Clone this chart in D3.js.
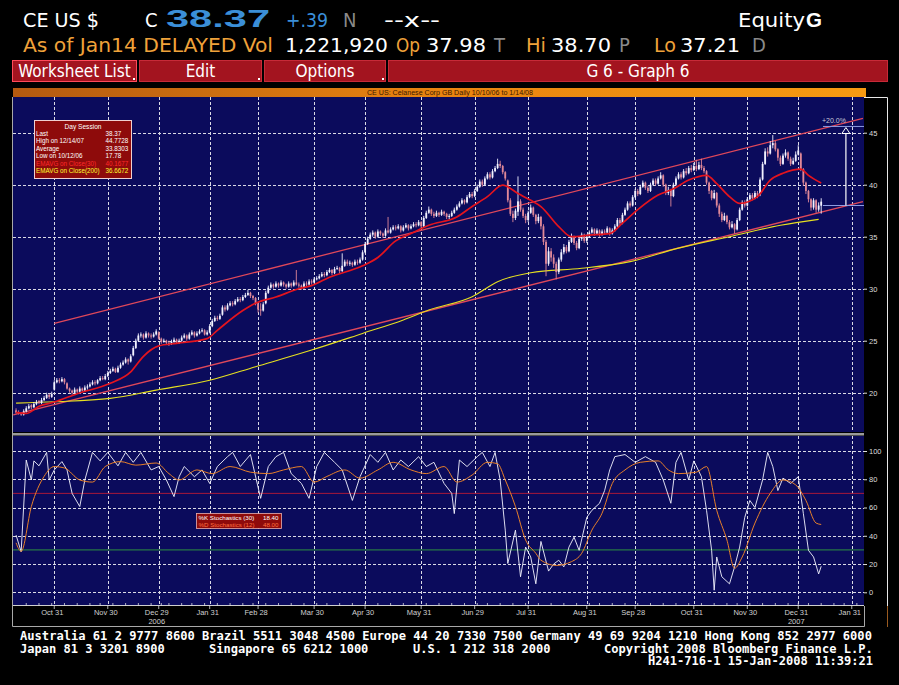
<!DOCTYPE html>
<html>
<head>
<meta charset="utf-8">
<title>CE US Equity G</title>
<script src="https://d3js.org/d3.v7.min.js"></script>
<style>
  body { margin: 0; background: #000; }
  svg { display: block; }
</style>
</head>
<body>
<svg id="chart" width="899" height="685"></svg>
<script>
// ---- sessions (trading days) ----
const sessionStart = "2006-10-10"
const sessionEnd = "2008-02-08"
const marketHolidays = ["2006-11-23", "2006-12-25", "2007-01-01", "2007-01-02", "2007-01-15", "2007-02-19",
  "2007-04-06", "2007-05-28", "2007-07-04", "2007-09-03", "2007-11-22", "2007-12-25", "2008-01-01", "2008-01-21"]

// ---- daily candles, one per session from 10 Oct 2006 to 14 Jan 2008 ----
const openPx = [
  18.3,18.1,18.0,17.9,18.2,18.5,18.8,18.6,18.9,19.2, 19.0,19.3,19.5,19.8,19.6,20.3,21.0,21.2,21.1,21.3,
  20.9,20.4,20.2,20.0,20.3,20.1,20.4,20.2,20.5,20.6, 20.8,21.0,20.9,21.2,21.4,21.3,21.6,21.9,22.1,22.3,
  22.0,22.4,22.7,22.9,23.2,23.0,23.6,24.3,25.0,25.5, 25.6,25.3,25.7,25.5,25.4,25.6,25.8,25.2,24.9,25.0,
  24.8,24.7,24.9,25.1,24.8,25.0,25.3,25.5,25.2,25.6, 25.8,25.5,25.7,25.9,26.0,25.6,25.8,26.4,26.9,27.2,
  27.1,27.5,28.2,28.0,28.4,28.6,28.5,28.8,29.0,28.9, 29.2,29.4,29.6,29.3,29.1,28.6,28.0,27.9,28.6,29.6,
  30.1,30.4,30.2,30.5,30.3,30.6,30.4,30.2,30.5,30.3, 30.6,30.4,30.3,30.1,30.5,30.4,30.7,30.6,30.9,31.0,
  31.2,31.4,31.3,31.6,31.8,31.5,31.9,32.0,31.7,32.2, 32.6,32.4,32.5,32.3,32.6,32.5,32.8,33.5,34.3,34.8,
  35.2,35.4,35.0,35.5,35.3,35.1,35.6,35.4,35.7,35.9, 35.8,36.0,35.6,35.9,36.1,35.8,36.0,36.2,36.1,36.4,
  36.0,36.8,37.3,37.6,37.2,37.0,37.3,37.1,37.4,37.2, 36.9,37.0,37.3,37.6,37.9,38.2,38.5,38.3,38.8,39.1,
  38.9,39.4,39.8,40.3,40.0,40.6,41.0,40.7,41.3,41.6, 42.0,41.8,41.2,40.4,38.5,37.2,36.8,37.4,38.4,37.6,
  37.0,36.6,37.3,37.8,37.1,36.5,36.9,36.0,34.5,32.4, 33.6,33.0,32.4,31.6,32.8,33.5,34.0,33.6,34.5,35.0,
  34.4,33.9,34.8,35.2,34.6,35.0,35.4,35.7,35.3,35.6, 35.2,35.5,35.4,35.8,35.3,35.6,36.0,36.6,36.3,37.1,
  37.6,38.2,38.0,38.8,39.4,39.1,39.8,40.2,39.7,39.4, 40.0,40.4,40.1,40.6,40.9,40.0,39.2,39.5,38.9,40.0,
  40.6,41.0,40.7,41.3,41.1,41.6,41.4,41.8,41.5,41.9, 41.6,41.3,40.2,39.4,38.7,39.2,38.0,37.2,36.6,37.0,
  36.4,35.9,36.2,35.7,36.6,37.6,38.3,38.0,38.6,39.0, 38.7,39.2,39.0,40.5,42.0,43.2,43.0,43.8,44.0,43.4,
  42.6,42.0,42.8,43.1,42.5,42.0,42.3,42.9,43.0,41.5, 40.2,39.4,38.6,37.8,38.5,37.6,37.98]
const highPx = [
  18.5,18.3,18.1,18.4,18.7,18.9,18.9,19.1,19.3,19.3, 19.5,19.7,20.0,19.9,20.1,21.2,21.4,21.4,21.5,21.4,
  21.0,20.5,20.3,20.5,20.4,20.6,20.5,20.7,20.8,21.0, 21.2,21.2,21.3,21.6,21.6,21.8,22.1,22.3,22.5,22.4,
  22.6,22.9,23.1,23.4,23.3,23.7,24.5,25.2,25.7,25.8, 25.7,25.9,25.8,25.7,25.8,26.1,25.9,25.3,25.2,25.1,
  25.0,25.1,25.3,25.2,25.2,25.5,25.7,25.6,25.8,26.0, 25.9,25.9,26.1,26.2,26.1,26.0,26.6,27.1,27.4,27.4,
  27.6,28.4,28.4,28.6,28.8,28.8,29.0,29.2,29.2,29.4, 29.6,29.9,29.7,29.4,29.2,28.7,28.6,28.7,29.8,30.3,
  30.6,30.5,30.7,30.6,30.8,30.7,30.5,30.7,30.6,30.8, 31.8,30.6,30.4,30.7,30.7,30.9,30.9,31.1,31.2,31.4,
  31.6,31.6,31.8,32.0,31.9,32.1,32.2,32.1,33.4,32.8, 32.8,32.7,32.6,32.8,32.8,33.0,33.7,34.5,35.0,35.4,
  35.6,35.5,35.7,35.6,35.4,35.8,36.9,35.9,36.1,36.1, 36.2,36.1,36.1,36.3,36.2,36.2,36.4,36.4,36.6,36.5,
  37.0,37.5,37.9,37.7,37.4,37.5,37.4,37.6,37.5,37.3, 37.2,37.5,37.8,38.1,38.4,38.7,38.6,39.0,39.3,39.3,
  39.6,40.0,40.5,40.5,40.8,41.2,41.2,41.5,41.8,42.5, 42.3,41.9,41.3,40.5,38.7,37.5,37.7,40.8,38.6,37.8,
  37.2,37.5,38.1,37.9,37.2,37.2,37.0,36.2,34.7,34.0, 33.9,33.3,32.6,33.0,33.8,34.3,34.2,34.7,35.3,35.1,
  34.6,35.0,35.4,35.3,35.2,35.6,35.9,35.8,35.8,35.7, 35.7,35.7,36.0,35.9,35.8,36.2,36.8,36.8,37.3,37.8,
  38.4,38.4,39.0,39.6,39.6,40.0,40.4,40.3,39.9,40.2, 40.6,40.6,40.8,41.2,41.0,40.1,39.8,39.6,40.2,40.8,
  41.2,41.2,41.5,41.6,41.8,41.9,42.1,42.4,42.2,42.5, 41.8,41.4,40.3,39.5,39.5,39.3,38.2,37.4,37.3,37.1,
  36.6,36.5,36.3,36.8,37.8,38.5,38.5,38.8,39.2,39.2, 39.4,39.4,40.7,42.2,43.5,43.6,44.2,44.77,44.2,43.5,
  42.8,43.0,43.4,43.2,42.7,42.6,43.2,43.8,43.1,41.6, 40.3,39.5,38.7,38.7,38.6,38.3,38.70]
const lowPx = [
  18.0,17.9,17.78,17.8,18.1,18.4,18.4,18.5,18.8,18.9, 18.9,19.2,19.4,19.4,19.5,20.2,20.9,20.9,21.0,20.8,
  20.3,20.0,19.8,19.9,19.9,20.0,20.1,20.1,20.3,20.5, 20.7,20.7,20.8,21.1,21.2,21.2,21.5,21.8,22.0,21.9,
  21.9,22.3,22.6,22.8,22.7,22.9,23.5,24.2,24.9,25.3, 25.1,25.2,25.3,25.2,25.3,25.5,25.1,24.7,24.8,24.6,
  24.5,24.6,24.8,24.7,24.7,24.9,25.2,25.0,25.1,25.5, 25.3,25.4,25.6,25.8,25.5,25.5,25.7,26.3,26.8,26.9,
  27.0,27.4,27.8,27.9,28.3,28.3,28.4,28.7,28.7,28.8, 29.1,29.3,29.1,28.9,28.4,27.7,27.4,27.8,28.5,29.5,
  30.0,30.0,30.1,30.1,30.2,30.2,30.0,30.1,30.1,30.2, 30.3,30.1,29.9,30.0,30.2,30.3,30.4,30.5,30.8,30.9,
  31.1,31.1,31.2,31.5,31.3,31.4,31.8,31.5,31.6,32.1, 32.2,32.2,32.1,32.2,32.3,32.4,32.7,33.4,34.2,34.7,
  35.0,34.8,34.9,35.1,34.9,35.0,35.3,35.3,35.6,35.6, 35.7,35.4,35.5,35.8,35.6,35.7,35.9,35.9,36.0,35.8,
  35.9,36.7,37.2,37.0,36.8,36.9,36.9,37.0,37.0,36.7, 36.7,36.9,37.2,37.5,37.8,38.1,38.1,38.2,38.7,38.7,
  38.8,39.3,39.7,39.8,39.9,40.5,40.5,40.6,41.2,41.5, 41.6,41.0,40.4,38.3,37.0,36.4,36.6,37.0,37.4,36.8,
  36.3,36.4,37.2,36.9,36.2,36.3,35.7,34.2,31.2,32.2, 32.6,32.0,30.9,31.4,32.6,33.3,33.4,33.5,34.4,34.2,
  33.7,33.8,34.6,34.4,34.4,34.9,35.3,35.1,35.2,35.0, 35.1,35.2,35.3,35.1,35.2,35.5,35.9,36.1,36.2,37.0,
  37.5,37.8,37.9,38.7,38.9,39.0,39.7,39.5,39.2,39.3, 39.9,39.9,40.0,40.5,39.8,39.0,39.0,37.9,38.8,39.9,
  40.5,40.5,40.6,40.9,41.0,41.2,41.3,41.3,41.4,41.4, 41.1,40.0,39.1,38.5,38.6,37.8,36.9,36.4,36.5,36.2,
  35.7,35.8,35.3,35.6,36.5,37.5,37.8,37.9,38.5,38.5, 38.6,38.7,38.9,40.4,41.9,42.7,42.9,43.5,43.2,42.3,
  41.8,41.9,42.6,42.3,41.8,41.9,42.2,42.8,41.3,39.9, 39.1,38.3,37.5,37.6,37.3,37.4,37.21]
const closePx = [
  18.1,18.0,17.9,18.2,18.5,18.7,18.6,18.9,19.1,19.0, 19.3,19.5,19.8,19.6,19.9,21.0,21.2,21.1,21.3,21.0,
  20.4,20.2,20.0,20.3,20.1,20.4,20.2,20.5,20.6,20.8, 21.0,20.9,21.2,21.4,21.3,21.6,21.9,22.1,22.3,22.0,
  22.4,22.7,22.9,23.2,23.0,23.5,24.3,25.0,25.5,25.6, 25.3,25.7,25.5,25.4,25.6,25.9,25.2,24.9,25.0,24.8,
  24.7,24.9,25.1,24.8,25.0,25.3,25.5,25.2,25.6,25.8, 25.5,25.7,25.9,26.0,25.6,25.8,26.4,26.9,27.2,27.1,
  27.4,28.2,28.0,28.4,28.6,28.5,28.8,29.0,28.9,29.2, 29.4,29.6,29.3,29.1,28.6,28.0,27.9,28.5,29.6,30.1,
  30.4,30.2,30.5,30.3,30.6,30.4,30.2,30.5,30.3,30.6, 30.4,30.3,30.1,30.5,30.4,30.7,30.6,30.9,31.0,31.2,
  31.4,31.3,31.6,31.8,31.5,31.9,32.0,31.7,32.2,32.6, 32.4,32.5,32.3,32.6,32.5,32.8,33.5,34.3,34.8,35.2,
  35.4,35.0,35.5,35.3,35.1,35.6,35.4,35.7,35.9,35.8, 36.0,35.6,35.9,36.1,35.8,36.0,36.2,36.1,36.4,36.0,
  36.8,37.3,37.6,37.2,37.0,37.3,37.1,37.4,37.2,36.9, 37.0,37.3,37.6,37.9,38.2,38.5,38.3,38.8,39.1,38.9,
  39.4,39.8,40.3,40.0,40.6,41.0,40.7,41.3,41.6,42.0, 41.8,41.2,40.6,38.5,37.2,36.8,37.5,38.4,37.6,37.0,
  36.6,37.3,37.8,37.1,36.5,36.9,36.0,34.5,32.4,33.6, 33.0,32.4,31.6,32.8,33.5,34.0,33.6,34.5,35.0,34.4,
  33.9,34.8,35.2,34.6,35.0,35.4,35.7,35.3,35.6,35.2, 35.5,35.4,35.8,35.3,35.6,36.0,36.6,36.3,37.1,37.6,
  38.2,38.0,38.8,39.4,39.1,39.8,40.2,39.7,39.4,40.0, 40.4,40.1,40.6,40.9,40.0,39.2,39.5,38.9,40.0,40.6,
  41.0,40.7,41.3,41.1,41.6,41.4,41.8,41.5,41.9,41.6, 41.3,40.2,39.4,38.7,39.2,38.0,37.2,36.6,37.0,36.4,
  35.9,36.2,35.7,36.6,37.6,38.3,38.0,38.6,39.0,38.7, 39.2,38.9,40.5,42.0,43.2,43.0,43.8,44.0,43.4,42.6,
  42.0,42.8,43.1,42.5,42.0,42.3,42.9,43.3,41.5,40.2, 39.4,38.6,37.8,38.5,37.6,38.0,38.37]

// ---- moving averages (session index, price) ----
const ema30Day = [0,4,9,15,24,37,45,50,56,63,75,79,89,94,102,111,116,123,136,142,149,155,162,173,179,185,191,
  197,202,206,213,218,225,233,238,244,252,258,264,271,275,280,284,291,296,301,308,311,316]
const ema30 = [18.1,18.0,18.7,19.1,19.9,20.9,22.0,23.5,24.5,24.75,25.2,26.0,27.9,28.6,29.2,30.0,30.3,31.1,32.2,
  33.0,34.6,35.3,36.1,36.9,37.9,38.85,39.96,39.15,38.5,37.9,35.97,35.0,35.15,35.3,36.3,37.6,39.0,39.6,40.45,
  40.9,40.1,38.85,38.2,38.85,40.45,41.1,41.5,40.9,40.17]
const ema200Day = [0,15,37,55,76,94,116,136,152,162,179,189,202,222,241,260,280,300,315]
const ema200 = [19.0,19.13,19.45,20.25,21.2,22.5,24.1,25.7,27.0,27.95,29.23,30.67,31.54,31.96,32.6,33.9,35.0,36.1,36.67]

// ---- stochastics (session index, value) ----
const stochKDay = [0,2,4,6,7,9,12,13,15,18,20,22,25,27,30,33,36,40,43,46,49,53,56,59,62,64,66,70,73,76,79,83,85,
  88,92,96,99,102,105,108,112,115,118,121,125,128,132,135,139,142,145,148,151,154,158,161,164,168,171,172,174,
  177,181,183,186,188,190,192,193,196,198,200,202,204,206,209,211,213,215,217,219,221,224,226,229,231,233,235,
  239,243,247,251,254,257,259,261,264,266,269,271,273,274,275,277,280,282,284,286,288,290,293,295,297,299,301,
  304,307,309,311,313,315,316]
const stochK = [40.5,28.7,93.6,79.5,93,89.5,99,79.5,86.6,92.5,86.6,70,60.7,79.5,99,93,99,89.5,99,92,99,86.6,89,
  79.5,67.7,81.8,89,81.8,86.6,77,89,96,99,89,97.5,66.5,89,96,99,84,77,66.5,89,99,92,86.6,65,81.8,97.5,92,99,86.6,
  93.6,89,96,89,92,77,70,55.7,93.6,89,96,99,89,99,79.5,44,20.4,44,11,32,25,6,36,15,20,22.7,18,32,39,29.7,53,58,
  63,72,86.6,96,97.5,92,96,92,79.5,63,92,99,79.5,93,81.8,58,29.7,1.5,25,11,6,18,32,53,65,60,79.5,99,89,72,80.8,
  77,81.8,55.7,29.7,25,13,18.4]
const stochDDay = [0,2,6,11,15,19,25,30,35,41,47,55,60,64,71,77,84,92,99,105,112,117,122,129,135,142,148,155,
  161,168,173,179,185,189,192,196,200,204,206,212,218,222,226,230,234,239,245,252,256,260,267,271,275,279,282,
  285,290,296,301,306,310,314,316]
const stochD = [35,29,60.7,82,89,88,79.5,78,89,92.5,90,91.5,84,79.5,86.6,84,89,85,84,86.6,89,78,82,86.6,80.8,
  86.6,92,86.6,84,89,78,83,92,91,79.5,60.7,37,27.6,22.7,19,21.7,27.6,44,56,77,86.6,92,93,86.6,84,85,89,58,37,17,
  25,49,70,79.5,76,65,49,48.0]

// ---- channel lines and measure tool (session index, price) ----
const channelTop = [[15, 26.67], [332.4, 46.38]]
const channelBottom = [[-1.1, 17.86], [332.4, 38.37]]
const measureSpan = [316.7, 332.8]
const measureArrowDay = 325.7
const measureFrom = 38.0
const measureTo = 45.6

// ---- axes ----
const tickDates = ["2006-10-31", "2006-11-30", "2006-12-29", "2007-01-31", "2007-02-28", "2007-03-30", "2007-04-30",
  "2007-05-31", "2007-06-29", "2007-07-31", "2007-08-31", "2007-09-28", "2007-10-31", "2007-11-30", "2007-12-31", "2008-01-31"]
const tickLabels = ["Oct 31", "Nov 30", "Dec 29", "Jan 31", "Feb 28", "Mar 30", "Apr 30", "May 31", "Jun 29",
  "Jul 31", "Aug 31", "Sep 28", "Oct 31", "Nov 30", "Dec 31", "Jan 31"]
const yearTickDates = ["2006-12-29", "2007-12-31"]
const yearLabels = ["2006", "2007"]
const priceTicks = [20, 25, 30, 35, 40, 45]
const stochTicks = [0, 20, 40, 60, 80, 100]
const stochLevels = [70, 30]

// ---- legends ----
const sessionLabels = ["Last", "High on  12/14/07", "Average", "Low on  10/12/06", "EMAVG on Close(30)", "EMAVG on Close(200)"]
const sessionValues = ["38.37", "44.7728", "33.8303", "17.78", "40.1677", "36.6672"]
const stochLabels = ["%K Stochastics (30)", "%D Stochastics (12)"]
const stochValues = ["18.40", "48.00"]

const NARROW = "'Liberation Sans Narrow','DejaVu Sans Condensed','Arial Narrow',sans-serif"
const SMALL = "'Liberation Sans',Arial,sans-serif"
const MONO = "'DejaVu Sans Mono','Liberation Mono',monospace"
const NAVY = "#0b0b5c"
const ORANGE = "#f0a23a"

const svg = d3.select("#chart")

function label(g, x, y, s, o = {}) {
    const t = g.append("text")
        .attr("x", x).attr("y", y).text(s)
        .attr("fill", o.fill || "#fff")
        .attr("font-size", o.size || 12)
        .attr("font-family", o.family || SMALL)
        .attr("font-weight", o.weight || "normal")
        .attr("text-anchor", o.anchor || "start")
    if (o.len) t.attr("textLength", o.len).attr("lengthAdjust", "spacingAndGlyphs")
    return t
}

// sessions list
const parse = d3.timeParse("%Y-%m-%d")
const fmt = d3.timeFormat("%Y-%m-%d")
const holidaySet = new Set(marketHolidays)
const sessions = d3.timeDay.range(parse(sessionStart), d3.timeDay.offset(parse(sessionEnd), 1))
    .filter(d => d.getDay() !== 0 && d.getDay() !== 6 && !holidaySet.has(fmt(d)))
const sessionOf = s => sessions.findIndex(d => fmt(d) === s)

// scales
const x = d3.scaleLinear().domain([-1.2, 332.8]).range([13, 864])
const yP = d3.scaleLinear().domain([20, 45]).range([392.7, 132.7])
const yS = d3.scaleLinear().domain([0, 100]).range([592.3, 451])

svg.append("rect").attr("width", 899).attr("height", 685).attr("fill", "#000")
const defs = svg.append("defs")

// ---- header ----
const head = svg.append("g")
label(head, 23, 27, "CE US $", { family: NARROW, size: 20, len: 76 })
label(head, 145, 27, "C", { family: NARROW, size: 20 })
label(head, 166, 27, "38.37", { family: SMALL, size: 23, weight: "bold", fill: "#3b8fd8", len: 104 })
label(head, 286, 27, "+.39", { family: NARROW, size: 20, fill: "#3b8fd8", len: 42 })
label(head, 343, 27, "N", { family: NARROW, size: 20, fill: "#8a8a8a" })
label(head, 384, 27, "--x--", { family: NARROW, size: 20, len: 56 })
label(head, 738, 27, "Equity", { family: NARROW, size: 20, len: 67 })
label(head, 806, 27, "G", { family: SMALL, size: 20, weight: "bold", len: 16 })

label(head, 23, 52, "As of Jan14 DELAYED Vol", { family: NARROW, size: 20, fill: ORANGE, len: 250 })
label(head, 285, 52, "1,221,920", { family: NARROW, size: 20, len: 103 })
label(head, 396, 52, "Op", { family: NARROW, size: 20, fill: ORANGE, len: 24 })
label(head, 426, 52, "37.98", { family: NARROW, size: 20, len: 60 })
label(head, 494, 52, "T", { family: NARROW, size: 20, fill: "#8a8a8a" })
label(head, 526, 52, "Hi", { family: NARROW, size: 20, fill: ORANGE, len: 20 })
label(head, 551, 52, "38.70", { family: NARROW, size: 20, len: 60 })
label(head, 619, 52, "P", { family: NARROW, size: 20, fill: "#8a8a8a" })
label(head, 654, 52, "Lo", { family: NARROW, size: 20, fill: ORANGE, len: 22 })
label(head, 680, 52, "37.21", { family: NARROW, size: 20, len: 60 })
label(head, 752, 52, "D", { family: NARROW, size: 20, fill: "#8a8a8a" })

// ---- menu buttons ----
const buttons = [
    { t: "Worksheet List", x0: 12, x1: 137, dot: true },
    { t: "Edit", x0: 139, x1: 262, dot: true },
    { t: "Options", x0: 264, x1: 386, dot: true },
    { t: "G 6 - Graph 6", x0: 388, x1: 888, dot: false }
]
buttons.forEach((b, k) => {
    svg.append("rect").attr("x", b.x0 + 0.5).attr("y", 60.5).attr("width", b.x1 - b.x0 - 1).attr("height", 21)
        .attr("fill", "#a3141f").attr("stroke", k === 0 ? "#ff4a5a" : "#c72a38").attr("stroke-width", 1)
    label(svg, (b.x0 + b.x1) / 2, 77, b.t, { family: NARROW, size: 17, anchor: "middle" })
    if (b.dot) svg.append("rect").attr("x", b.x1 - 4).attr("y", 78).attr("width", 2).attr("height", 2).attr("fill", "#fff")
})

// ---- title bar ----
const grad = defs.append("linearGradient").attr("id", "bar").attr("x1", 0).attr("x2", 1)
grad.append("stop").attr("offset", 0).attr("stop-color", "#b45a10")
grad.append("stop").attr("offset", 0.5).attr("stop-color", "#e88410")
grad.append("stop").attr("offset", 1).attr("stop-color", "#f79a12")
svg.append("rect").attr("x", 13).attr("y", 88).attr("width", 853).attr("height", 9).attr("fill", "url(#bar)")
label(svg, 450, 95, "CE US: Celanese Corp GB Daily 10/10/06 to 1/14/08",
    { size: 6.5, fill: "#3a1800", anchor: "middle", len: 166 })

// ---- panels ----
svg.append("rect").attr("x", 13).attr("y", 97).attr("width", 851).attr("height", 335).attr("fill", NAVY)
svg.append("rect").attr("x", 13).attr("y", 432).attr("width", 851).attr("height", 4).attr("fill", "#000")
svg.append("rect").attr("x", 13).attr("y", 433).attr("width", 851).attr("height", 2.5).attr("fill", "#9a9a9a")
svg.append("rect").attr("x", 13).attr("y", 436).attr("width", 851).attr("height", 169.5).attr("fill", NAVY)

defs.append("clipPath").attr("id", "clipTop")
    .append("rect").attr("x", 13).attr("y", 97).attr("width", 851).attr("height", 335)
defs.append("clipPath").attr("id", "clipLow")
    .append("rect").attr("x", 13).attr("y", 436).attr("width", 851).attr("height", 169.5)

const tickIdx = tickDates.map(sessionOf)

// vertical and horizontal grid
const grid = svg.append("g").attr("stroke", "#fff").attr("stroke-width", 1)
    .attr("stroke-dasharray", "3,2").attr("opacity", 0.85)
tickIdx.forEach(i => {
    const gx = Math.round(x(i)) + 0.5
    grid.append("line").attr("x1", gx).attr("x2", gx).attr("y1", 97).attr("y2", 432)
    grid.append("line").attr("x1", gx).attr("x2", gx).attr("y1", 436).attr("y2", 605)
})
priceTicks.forEach(v => {
    const gy = Math.round(yP(v)) + 0.5
    grid.append("line").attr("x1", 13).attr("x2", 864).attr("y1", gy).attr("y2", gy)
})
stochTicks.forEach(v => {
    const gy = Math.round(yS(v)) + 0.5
    grid.append("line").attr("x1", 13).attr("x2", 864).attr("y1", gy).attr("y2", gy)
})

// ---- upper panel ----
const upperG = svg.append("g").attr("clip-path", "url(#clipTop)")
const priceLine = d3.line().x(d => x(d[0])).y(d => yP(d[1]))

;[channelTop, channelBottom].forEach(c => {
    upperG.append("path").attr("d", priceLine(c)).attr("fill", "none")
        .attr("stroke", "#e0485a").attr("stroke-width", 1.3)
})

const smoothPrice = d3.line().x(d => x(d[0])).y(d => yP(d[1])).curve(d3.curveMonotoneX)
upperG.append("path").attr("d", smoothPrice(d3.zip(ema200Day, ema200)))
    .attr("fill", "none").attr("stroke", "#e6e020").attr("stroke-width", 1.1)

const candles = closePx.map((c, i) => ({ i, o: openPx[i], h: highPx[i], l: lowPx[i], c }))
const UP = "#f2f2ff", DOWN = "#e08898"
upperG.selectAll("line.wick").data(candles).join("line").attr("class", "wick")
    .attr("x1", d => x(d.i)).attr("x2", d => x(d.i))
    .attr("y1", d => yP(d.h)).attr("y2", d => yP(d.l))
    .attr("stroke", d => d.c >= d.o ? UP : DOWN).attr("stroke-width", 0.9)
upperG.selectAll("rect.body").data(candles).join("rect").attr("class", "body")
    .attr("x", d => x(d.i) - 0.9).attr("width", 1.8)
    .attr("y", d => yP(Math.max(d.o, d.c)))
    .attr("height", d => Math.max(0.8, Math.abs(yP(d.o) - yP(d.c))))
    .attr("fill", d => d.c >= d.o ? UP : DOWN)

upperG.append("path").attr("d", smoothPrice(d3.zip(ema30Day, ema30)))
    .attr("fill", "none").attr("stroke", "#e4141e").attr("stroke-width", 1.7)

// measure tool
const mg = upperG.append("g")
;[measureFrom, measureTo].forEach(v => {
    mg.append("line").attr("x1", x(measureSpan[0])).attr("x2", x(measureSpan[1]))
        .attr("y1", yP(v)).attr("y2", yP(v)).attr("stroke", "#8e9be0").attr("stroke-width", 1)
})
const ax = x(measureArrowDay), ay = yP(measureTo - 0.1)
mg.append("line").attr("x1", ax).attr("x2", ax).attr("y1", yP(measureFrom)).attr("y2", ay + 6)
    .attr("stroke", "#fff").attr("stroke-width", 1.2)
mg.append("path").attr("d", `M${ax},${ay}L${ax - 4},${ay + 6}L${ax + 4},${ay + 6}Z`)
    .attr("fill", NAVY).attr("stroke", "#fff").attr("stroke-width", 1)
label(upperG, x(measureSpan[0]) - 1, yP(measureTo) - 3, "+20.0%", { size: 7, fill: "#c8c8d8" })

// day session box
const box = svg.append("g")
box.append("rect").attr("x", 34.5).attr("y", 120.5).attr("width", 97).attr("height", 58)
    .attr("fill", "#8e0b0b").attr("stroke", "#f0d0d0").attr("stroke-width", 1)
label(box, 83, 128.5, "Day Session", { size: 6.6, anchor: "middle" })
sessionLabels.forEach((s, k) => {
    const col = k === 4 ? "#ff2a2a" : k === 5 ? "#ffff30" : "#fff"
    label(box, 36, 135.5 + k * 7.5, s, { size: 6.3, fill: col })
    label(box, 105.5, 135.5 + k * 7.5, sessionValues[k], { size: 6.3, fill: col })
})

// ---- lower panel ----
const lowerG = svg.append("g").attr("clip-path", "url(#clipLow)")
lowerG.append("line").attr("x1", 13).attr("x2", 864).attr("y1", yS(stochLevels[0])).attr("y2", yS(stochLevels[0]))
    .attr("stroke", "#a8183a").attr("stroke-width", 1)
lowerG.append("line").attr("x1", 13).attr("x2", 864).attr("y1", yS(stochLevels[1])).attr("y2", yS(stochLevels[1]))
    .attr("stroke", "#2c9040").attr("stroke-width", 1)
const stochLine = d3.line().x(d => x(d[0])).y(d => yS(d[1]))
const stochSmooth = d3.line().x(d => x(d[0])).y(d => yS(d[1])).curve(d3.curveMonotoneX)
lowerG.append("path").attr("d", stochLine(d3.zip(stochKDay, stochK)))
    .attr("fill", "none").attr("stroke", "#f4f4ff").attr("stroke-width", 0.9)
lowerG.append("path").attr("d", stochSmooth(d3.zip(stochDDay, stochD)))
    .attr("fill", "none").attr("stroke", "#e8802a").attr("stroke-width", 1)

const sbox = svg.append("g")
sbox.append("rect").attr("x", 196.5).attr("y", 513.5).attr("width", 85).attr("height", 15)
    .attr("fill", "#8e0b0b").attr("stroke", "#e8b0b0").attr("stroke-width", 0.8)
stochLabels.forEach((s, k) => {
    const col = k === 0 ? "#fff" : "#ff7040"
    label(sbox, 198.5, 520 + k * 6.8, s, { size: 6.2, fill: col })
    label(sbox, 263, 520 + k * 6.8, stochValues[k], { size: 6.2, fill: col })
})

// ---- right axis strip ----
svg.append("rect").attr("x", 864).attr("y", 97).attr("width", 23).attr("height", 509).attr("fill", "#000")
const rTop = svg.append("g").attr("transform", "translate(864,0)")
    .call(d3.axisRight(yP).tickValues(priceTicks).tickSize(3).tickPadding(2))
const rLow = svg.append("g").attr("transform", "translate(864,0)")
    .call(d3.axisRight(yS).tickValues(stochTicks).tickSize(3).tickPadding(2))
;[rTop, rLow].forEach(g => {
    g.select(".domain").remove()
    g.selectAll("line").attr("stroke", "#ddd")
    g.selectAll("text").attr("fill", "#ddd").attr("font-size", 7.5).attr("font-family", SMALL)
})
svg.append("path").attr("d", "M864,97.5H887.5V606").attr("fill", "none").attr("stroke", "#e8e8e8")
svg.append("path").attr("d", "M887.5,606V627").attr("fill", "none").attr("stroke", "#9a5a20")

// ---- bottom date strip ----
svg.append("rect").attr("x", 13).attr("y", 605.5).attr("width", 851).attr("height", 21).attr("fill", "#000")
svg.append("line").attr("x1", 13).attr("x2", 864).attr("y1", 605.5).attr("y2", 605.5).attr("stroke", "#cfcfcf")
const weekStarts = sessions.map((d, i) => i).filter(i => i > 0 && sessions[i].getDay() < sessions[i - 1].getDay())
svg.append("g").selectAll("line").data(weekStarts).join("line")
    .attr("x1", i => x(i)).attr("x2", i => x(i)).attr("y1", 603).attr("y2", 606)
    .attr("stroke", "#ddd").attr("stroke-width", 0.8)
tickIdx.forEach((i, k) => {
    svg.append("line").attr("x1", x(i)).attr("x2", x(i)).attr("y1", 605).attr("y2", 609)
        .attr("stroke", "#ddd").attr("stroke-width", 0.8)
    label(svg, x(i) - 2, 615, tickLabels[k], { size: 7.5, fill: "#d0d0d0", anchor: "middle" })
})
yearTickDates.forEach((s, k) => {
    label(svg, x(sessionOf(s)) - 2, 623.5, yearLabels[k], { size: 7.5, fill: "#d0d0d0", anchor: "middle" })
})
svg.append("path").attr("d", "M12.5,97V626.5H864.5V606").attr("fill", "none").attr("stroke", "#a8a8a8")

// ---- footer ----
const CH = 7.29
const foot = [
    [20, 640, "Australia 61 2 9777 8600 Brazil 5511 3048 4500 Europe 44 20 7330 7500 Germany 49 69 9204 1210 Hong Kong 852 2977 6000"],
    [20, 652.5, "Japan 81 3 3201 8900"],
    [209, 652.5, "Singapore 65 6212 1000"],
    [413, 652.5, "U.S. 1 212 318 2000"],
    [604, 652.5, "Copyright 2008 Bloomberg Finance L.P."],
    [648, 665, "H241-716-1 15-Jan-2008 11:39:21"]
]
foot.forEach(f => label(svg, f[0], f[1], f[2], { family: MONO, size: 12, weight: "bold", len: f[2].length * CH - 1 }))
</script>
</body>
</html>
